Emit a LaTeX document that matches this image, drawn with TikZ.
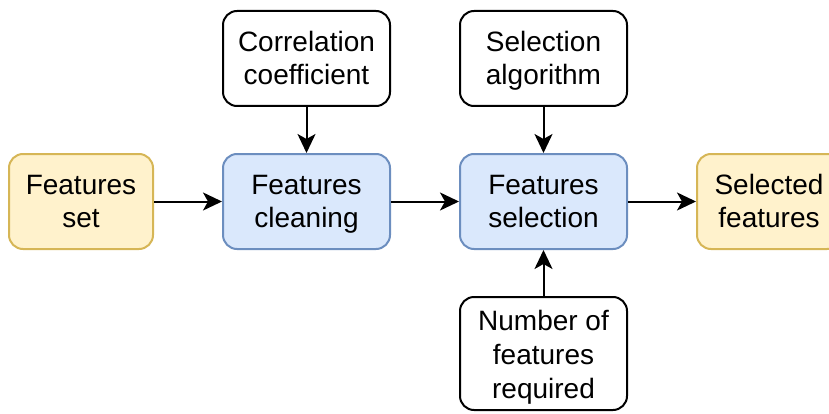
\documentclass[tikz,border=0pt]{standalone}
\usepackage{fontspec}
\setmainfont{Liberation Sans}
\usetikzlibrary{arrows.meta}
\definecolor{yelfill}{HTML}{FFF2CC}
\definecolor{yeldraw}{HTML}{D6B656}
\definecolor{bluefill}{HTML}{DAE8FC}
\definecolor{bluedraw}{HTML}{6C8EBF}
% fixed struts so every label sits at the same height in its box
\newcommand{\topstr}{\rule{0pt}{25pt}}
\newcommand{\botstr}{\rule[-6pt]{0pt}{6pt}}
\begin{document}
\begin{tikzpicture}[x=1pt,y=1pt,
  box/.style={rounded corners=14pt, line width=2pt, align=center,
    font=\fontsize{28}{33.7}\selectfont, inner sep=0pt, anchor=center},
  databox/.style={box, draw=yeldraw, fill=yelfill},
  procbox/.style={box, draw=bluedraw, fill=bluefill},
  parambox/.style={box, draw=black, fill=white},
  flow/.style={line width=2pt, -{Stealth[length=19pt,width=18pt,inset=5pt]}}]
\useasboundingbox (0,0) rectangle (829,413);
\clip (0,0) rectangle (829,413);
% main pipeline
\node[databox, minimum width=144pt, minimum height=95pt] (fset) at (81,211.5) {\topstr Features\\set\botstr};
\node[procbox, minimum width=167pt, minimum height=95pt] (fclean) at (306.5,211.5) {\topstr Features\\cleaning\botstr};
\node[procbox, minimum width=167pt, minimum height=95pt] (fsel) at (543.5,211.5) {\topstr Features\\selection\botstr};
\node[databox, minimum width=144pt, minimum height=95pt] (sfeat) at (769,211.5) {\topstr Selected\\features\botstr};
% parameters
\node[parambox, minimum width=167pt, minimum height=95pt] (corr) at (306.5,354.5) {\topstr Correlation\\coefficient\botstr};
\node[parambox, minimum width=167pt, minimum height=95pt] (salg) at (543.5,354.5) {\topstr Selection\\algorithm\botstr};
\node[parambox, minimum width=167pt, minimum height=113pt] (nfeat) at (543.5,59.5) {\rule{0pt}{28pt}Number of\\features\\required\botstr};
% connectors
\draw[flow] (fset) -- (fclean);
\draw[flow] (fclean) -- (fsel);
\draw[flow] (fsel) -- (sfeat);
\draw[flow] (corr) -- (fclean);
\draw[flow] (salg) -- (fsel);
\draw[flow] (nfeat) -- (fsel);
\end{tikzpicture}
\end{document}
